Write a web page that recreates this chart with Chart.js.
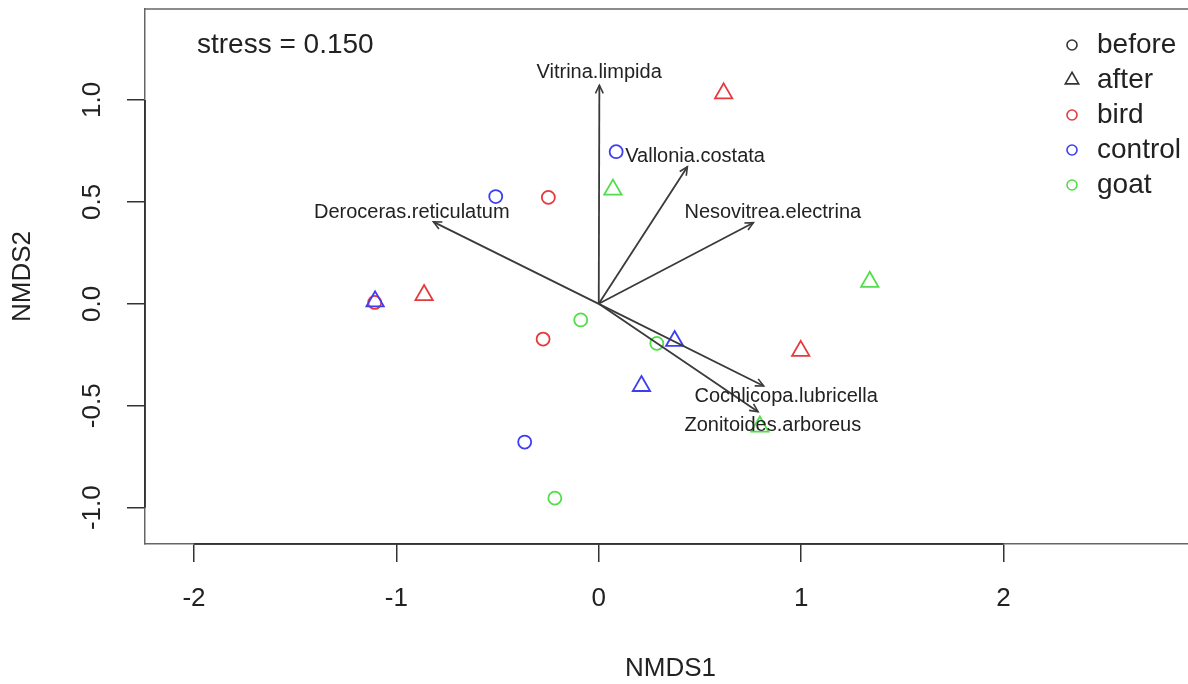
<!DOCTYPE html>
<html>
<head>
<meta charset="utf-8">
<script src="https://cdn.jsdelivr.net/npm/chart.js@4.4.1/dist/chart.umd.min.js"></script>
<style>
  html, body { margin: 0; padding: 0; background: #fff; overflow: hidden; }
  canvas { display: block; }
</style>
</head>
<body>
<canvas id="nmds" width="1196" height="684"></canvas>
<script>
// site scores, split by treatment and period
const birdBefore = [{ x: -0.249, y: 0.522 }, { x: -0.275, y: -0.173 }, { x: -1.107, y: 0.007 }];
const birdAfter = [{ x: 0.617, y: 1.032 }, { x: -0.863, y: 0.043 }, { x: 0.998, y: -0.231 }];
const controlBefore = [{ x: 0.086, y: 0.746 }, { x: -0.509, y: 0.526 }, { x: -0.366, y: -0.678 }];
const controlAfter = [{ x: -1.105, y: 0.012 }, { x: 0.375, y: -0.182 }, { x: 0.211, y: -0.403 }];
const goatBefore = [{ x: -0.089, y: -0.079 }, { x: 0.287, y: -0.194 }, { x: -0.217, y: -0.953 }];
const goatAfter = [{ x: 0.07, y: 0.56 }, { x: 1.339, y: 0.108 }, { x: 0.796, y: -0.602 }];

// envfit species vectors
const species = ['Vitrina.limpida', 'Vallonia.costata', 'Nesovitrea.electrina',
    'Deroceras.reticulatum', 'Cochlicopa.lubricella', 'Zonitoides.arboreus'];
const vecX = [0.003, 0.438, 0.764, -0.817, 0.815, 0.787];
const vecY = [1.072, 0.672, 0.398, 0.402, -0.403, -0.529];
const labX = [0.002, 0.476, 0.860, -0.924, 0.926, 0.860];
const labY = [1.137, 0.724, 0.449, 0.449, -0.455, -0.598];

const xTicks = [-2, -1, 0, 1, 2];
const yTicks = [-1, -0.5, 0, 0.5, 1];
const stressText = 'stress = 0.150';
const stressPos = { x: -1.985, y: 1.269 };

const legendLabels = ['before', 'after', 'bird', 'control', 'goat'];
const legendShapes = ['circle', 'triangle', 'circle', 'circle', 'circle'];

const RED = '#e6393e';
const BLUE = '#3d3df2';
const GREEN = '#52de4a';
const INK = '#222';
const legendColors = ['#333', '#333', RED, BLUE, GREEN];
const FONT = '"Liberation Sans", Arial, sans-serif';

function pts(label, data, color, shape, order) {
    return {
        label: label,
        data: data,
        pointStyle: shape,
        pointRadius: shape === 'triangle' ? 10 : 6.5,
        pointBorderWidth: 1.8,
        pointBorderColor: color,
        pointBackgroundColor: 'rgba(0,0,0,0)',
        showLine: false,
        order: order,
    };
}

const arrowSets = species.map((name, i) => ({
    label: name,
    data: [{ x: 0, y: 0 }, { x: vecX[i], y: vecY[i] }],
    showLine: true,
    borderColor: '#3a3a3a',
    borderWidth: 1.8,
    pointRadius: 0,
    order: 0,
}));

function drawShape(ctx, shape, cx, cy, r) {
    ctx.beginPath();
    if (shape === 'circle') {
        ctx.arc(cx, cy, r, 0, Math.PI * 2);
    } else {
        for (let k = 0; k < 3; k++) {
            const a = k * 2 * Math.PI / 3;
            const px = cx + Math.sin(a) * r * 1.55;
            const py = cy - Math.cos(a) * r * 1.55;
            if (k === 0) ctx.moveTo(px, py); else ctx.lineTo(px, py);
        }
        ctx.closePath();
    }
    ctx.stroke();
}

const overlay = {
    id: 'overlay',
    afterDatasetsDraw(chart) {
        const { ctx, chartArea: a, scales: { x, y } } = chart;
        ctx.save();

        // box top edge, then the darker axis lines over the tick range
        ctx.lineWidth = 1.5;
        ctx.strokeStyle = '#666';
        ctx.beginPath();
        ctx.moveTo(a.left, a.top);
        ctx.lineTo(a.right, a.top);
        ctx.stroke();
        ctx.strokeStyle = '#222';
        ctx.beginPath();
        ctx.moveTo(x.getPixelForValue(xTicks[0]), a.bottom);
        ctx.lineTo(x.getPixelForValue(xTicks[xTicks.length - 1]), a.bottom);
        ctx.moveTo(a.left, y.getPixelForValue(yTicks[0]));
        ctx.lineTo(a.left, y.getPixelForValue(yTicks[yTicks.length - 1]));
        ctx.stroke();

        // arrow heads
        ctx.strokeStyle = '#3a3a3a';
        ctx.lineWidth = 1.6;
        chart.data.datasets.forEach((ds, i) => {
            if (!ds.showLine) return;
            const pp = chart.getDatasetMeta(i).data;
            const x0 = pp[0].x, y0 = pp[0].y, x1 = pp[1].x, y1 = pp[1].y;
            const ang = Math.atan2(y1 - y0, x1 - x0);
            const len = 9, spread = Math.PI / 7;
            ctx.beginPath();
            ctx.moveTo(x1 - len * Math.cos(ang - spread), y1 - len * Math.sin(ang - spread));
            ctx.lineTo(x1, y1);
            ctx.lineTo(x1 - len * Math.cos(ang + spread), y1 - len * Math.sin(ang + spread));
            ctx.stroke();
        });

        // species names
        ctx.fillStyle = INK;
        ctx.font = '20px ' + FONT;
        ctx.textAlign = 'center';
        ctx.textBaseline = 'middle';
        species.forEach((name, i) => {
            ctx.fillText(name, x.getPixelForValue(labX[i]), y.getPixelForValue(labY[i]));
        });

        // stress value
        ctx.font = '28px ' + FONT;
        ctx.textAlign = 'left';
        ctx.fillText(stressText, x.getPixelForValue(stressPos.x), y.getPixelForValue(stressPos.y));

        // legend
        legendLabels.forEach((lab, i) => {
            const ly = 45 + i * 35;
            ctx.strokeStyle = legendColors[i];
            ctx.lineWidth = 1.6;
            drawShape(ctx, legendShapes[i], 1072, ly, 5);
            ctx.fillStyle = INK;
            ctx.fillText(lab, 1097, ly);
        });

        // vertical y tick labels
        ctx.font = '26px ' + FONT;
        ctx.textAlign = 'center';
        yTicks.forEach(v => {
            ctx.save();
            ctx.translate(93, y.getPixelForValue(v));
            ctx.rotate(-Math.PI / 2);
            ctx.fillText(v.toFixed(1), 0, 0);
            ctx.restore();
        });
        ctx.restore();
    }
};

new Chart(document.getElementById('nmds'), {
    type: 'scatter',
    data: {
        datasets: [
            ...arrowSets,
            pts('control after', controlAfter, BLUE, 'triangle', 1),
            pts('bird before', birdBefore, RED, 'circle', 2),
            pts('bird after', birdAfter, RED, 'triangle', 3),
            pts('control before', controlBefore, BLUE, 'circle', 4),
            pts('goat before', goatBefore, GREEN, 'circle', 5),
            pts('goat after', goatAfter, GREEN, 'triangle', 6),
        ],
    },
    options: {
        responsive: false,
        animation: false,
        layout: { autoPadding: false, padding: { top: 9, right: 0, bottom: 0, left: 0 } },
        plugins: {
            legend: { display: false },
            tooltip: { enabled: false },
        },
        scales: {
            x: {
                type: 'linear',
                min: -2.242,
                max: 2.951,
                afterBuildTicks: s => { s.ticks = xTicks.map(v => ({ value: v })); },
                afterFit: s => { s.height = 140; },
                grid: { drawOnChartArea: false, drawTicks: true, tickLength: 18, color: '#333', lineWidth: 1.5 },
                border: { display: true, color: '#666', width: 1.5 },
                ticks: {
                    color: INK,
                    font: { size: 26, family: FONT },
                    padding: 21,
                    maxRotation: 0,
                    autoSkip: false,
                    callback: v => String(v),
                },
                title: {
                    display: true,
                    text: 'NMDS1',
                    color: INK,
                    font: { size: 26, family: FONT },
                    padding: { top: 0, bottom: 0 },
                },
            },
            y: {
                type: 'linear',
                min: -1.178,
                max: 1.446,
                afterBuildTicks: s => { s.ticks = yTicks.map(v => ({ value: v })); },
                afterFit: s => { s.width = 145; },
                grid: { drawOnChartArea: false, drawTicks: true, tickLength: 18, color: '#333', lineWidth: 1.5 },
                border: { display: true, color: '#666', width: 1.5 },
                ticks: { display: false },
                title: {
                    display: true,
                    text: 'NMDS2',
                    color: INK,
                    font: { size: 26, family: FONT },
                    padding: { top: 7, bottom: 0 },
                },
            },
        },
    },
    plugins: [overlay],
});
</script>
</body>
</html>
